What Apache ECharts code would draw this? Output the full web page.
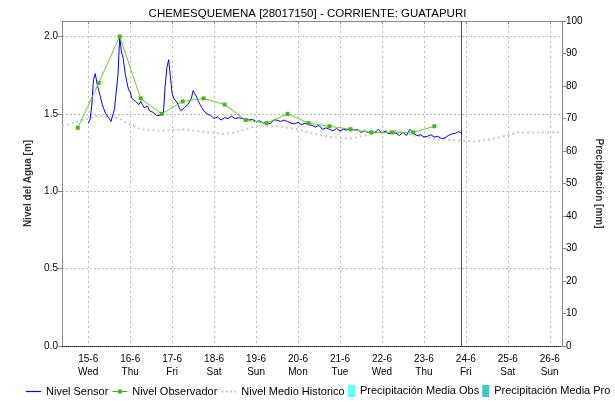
<!DOCTYPE html>
<html><head><meta charset="utf-8">
<script src="https://cdn.jsdelivr.net/npm/echarts@6/dist/echarts.min.js"></script>
<style>html,body{margin:0;padding:0;background:#fff}#c{width:615px;height:404px}</style>
</head><body><div id="c"></div>
<script>
const titleText = 'CHEMESQUEMENA [28017150] - CORRIENTE: GUATAPURI';
// x positions are hours after 15-6 00:00
const dayTickHours = [0, 24, 48, 72, 96, 120, 144, 168, 192, 216, 240, 264];
const dayLabels = ['15-6','16-6','17-6','18-6','19-6','20-6','21-6','22-6','23-6','24-6','25-6','26-6'];
const weekdayLabels = ['Wed','Thu','Fri','Sat','Sun','Mon','Tue','Wed','Thu','Fri','Sat','Sun'];
const axisStartHour = -15;
const axisEndHour = 271;
const nowHour = 213.5;

const sensorHours = [0,1,2,3,4,5,6,7,8,9,10,11,12,13,14,15,16,17,18,19,20,21,22,23,24,25,26,27,28,29,30,31,32,33,34,35,36,37,38,39,40,41,42,43,44,45,46,47,48,49,50,51,52,53,54,55,56,57,58,59,60,61,62,63,64,65,66,67,68,69,70,
  72,74,76,78,80,82,84,86,88,90,92,94,96,98,100,102,104,106,108,110,112,114,116,118,120,122,124,126,128,130,132,134,136,138,140,142,144,146,148,150,152,154,156,158,160,162,164,166,168,170,172,174,176,178,180,182,184,186,188,190,192,194,196,198,200,202,204,206,208,210,212,214];
const sensorLevels = [1.44,1.46,1.55,1.72,1.76,1.70,1.65,1.61,1.56,1.53,1.50,1.50,1.47,1.45,1.44,1.53,1.52,1.75,2.00,1.90,1.86,1.77,1.71,1.66,1.64,1.60,1.59,1.58,1.57,1.56,1.58,1.56,1.54,1.54,1.55,1.52,1.53,1.51,1.51,1.49,1.48,1.49,1.49,1.50,1.68,1.80,1.85,1.74,1.63,1.60,1.59,1.57,1.54,1.52,1.53,1.54,1.53,1.56,1.57,1.60,1.65,1.63,1.61,1.58,1.56,1.54,1.52,1.51,1.50,1.50,1.49,
  1.47,1.48,1.46,1.475,1.47,1.485,1.47,1.475,1.47,1.465,1.46,1.465,1.45,1.455,1.44,1.45,1.435,1.46,1.46,1.45,1.46,1.45,1.44,1.435,1.445,1.43,1.44,1.43,1.425,1.415,1.425,1.40,1.41,1.40,1.39,1.405,1.39,1.40,1.395,1.41,1.395,1.40,1.38,1.39,1.38,1.385,1.38,1.40,1.375,1.39,1.37,1.38,1.375,1.36,1.38,1.36,1.40,1.375,1.36,1.365,1.35,1.355,1.365,1.35,1.355,1.34,1.345,1.36,1.37,1.375,1.385,1.37];

const observerHours = [-6,6,18,30,42,54,66,78,90,102,114,126,138,150,162,174,186,198];
const observerLevels = [1.41,1.70,2.00,1.60,1.50,1.58,1.60,1.56,1.46,1.44,1.50,1.44,1.42,1.40,1.38,1.38,1.38,1.42];

const historicHours = [-15,-6,6,12,18,24,30,42,54,66,78,84,90,96,108,114,120,126,138,150,162,174,180,186,198,210,222,234,246,258,271];
const historicLevels = [1.42,1.45,1.49,1.48,1.47,1.43,1.40,1.39,1.40,1.385,1.37,1.38,1.40,1.42,1.42,1.41,1.40,1.38,1.35,1.34,1.37,1.39,1.385,1.36,1.34,1.33,1.32,1.345,1.38,1.38,1.38];

const precipObs = [];
const precipPro = [];

const pair = (xs, ys) => xs.map((x, i) => [x, ys[i]]);
const FONT = 'Liberation Sans';
const ICON_LINE = 'path://M0,4.5L15,4.5L15,5.7L0,5.7Z';
const ICON_LINE_MARK = 'path://M0,4.5L15,4.5L15,5.5L0,5.5ZM5.5,3L9.5,3L9.5,7L5.5,7Z';
const ICON_DOTS = 'path://M0,4L2,4L2,6L0,6ZM4,4L6,4L6,6L4,6ZM8,4L10,4L10,6L8,6ZM12,4L14,4L14,6L12,6Z';
const legendText = {fontFamily: FONT, fontSize: 11, color: '#000'};

const chart = echarts.init(document.getElementById('c'), null, {renderer: 'canvas'});
chart.setOption({
  animation: false,
  backgroundColor: '#fff',
  title: {
    text: titleText, left: 'center', top: 3,
    textStyle: {fontFamily: FONT, fontSize: 11.5, fontWeight: 'normal', color: '#000'}
  },
  grid: {left: 62, right: 53, top: 21, bottom: 58, containLabel: false},
  legend: [{
    left: 26, top: 386, padding: 0, itemGap: 4, itemWidth: 15, itemHeight: 10,
    textStyle: legendText,
    data: [
      {name: 'Nivel Sensor', icon: ICON_LINE, itemStyle: {color: '#0000ff', borderColor: '#0000ff', borderWidth: 0}},
      {name: 'Nivel Observador', icon: ICON_LINE_MARK},
      {name: 'Nivel Medio Historico', icon: ICON_DOTS}
    ]
  }, {
    left: 348, top: 385, padding: 0, itemGap: 3, itemWidth: 7, itemHeight: 12,
    textStyle: legendText,
    data: [
      {name: 'Precipitación Media Obs', icon: 'rect'},
      {name: 'Precipitación Media Pro', icon: 'rect'}
    ]
  }],
  xAxis: [{
    type: 'value', min: axisStartHour, max: axisEndHour, position: 'bottom',
    axisLine: {show: true, onZero: false, lineStyle: {color: '#222', type: [1, 1]}},
    axisTick: {show: false, customValues: dayTickHours},
    axisLabel: {
      customValues: dayTickHours, margin: 7, lineHeight: 13,
      fontFamily: FONT, fontSize: 10, color: '#000',
      formatter: v => { const i = dayTickHours.indexOf(v); return i < 0 ? '' : dayLabels[i] + '\n' + weekdayLabels[i]; }
    },
    splitLine: {show: true, lineStyle: {color: '#bbb', type: [2, 3], width: 1}}
  }, {
    type: 'value', min: axisStartHour, max: axisEndHour, position: 'top',
    axisLine: {show: true, onZero: false, lineStyle: {color: '#888'}},
    axisTick: {show: true, inside: true, length: 3, customValues: dayTickHours, lineStyle: {color: '#888'}},
    axisLabel: {show: false},
    splitLine: {show: false}
  }],
  yAxis: [{
    type: 'value', min: 0, max: 2.1, interval: 0.5, position: 'left',
    name: 'Nivel del Agua [m]', nameLocation: 'middle', nameGap: 24,
    nameTextStyle: {fontFamily: FONT, fontSize: 10, fontWeight: 'bold', color: '#333'},
    axisLine: {show: true, onZero: false, lineStyle: {color: '#888'}},
    axisTick: {show: true, length: 4, lineStyle: {color: '#888'}},
    axisLabel: {showMaxLabel: false, margin: 4, fontFamily: FONT, fontSize: 10, color: '#000', formatter: v => v.toFixed(1)},
    splitLine: {show: true, lineStyle: {color: '#bbb', type: [2, 2]}}
  }, {
    type: 'value', min: 0, max: 100, interval: 10, position: 'right',
    name: 'Precipitación [mm]', nameLocation: 'middle', nameGap: 22, nameRotate: -90,
    nameTextStyle: {fontFamily: FONT, fontSize: 10, fontWeight: 'bold', color: '#333'},
    axisLine: {show: true, onZero: false, lineStyle: {color: '#888'}},
    axisTick: {show: true, length: 4, lineStyle: {color: '#888'}},
    axisLabel: {margin: 4, fontFamily: FONT, fontSize: 10, color: '#000'},
    splitLine: {show: false}
  }],
  series: [
    {
      name: 'Nivel Medio Historico', type: 'line', data: pair(historicHours, historicLevels),
      symbol: 'circle', showSymbol: false, smooth: false, color: '#c8c8c8',
      itemStyle: {color: '#c8c8c8'},
      lineStyle: {color: '#c8c8c8', width: 2, type: [2, 3]}, z: 1
    },
    {
      name: 'Ahora', type: 'line', data: [[nowHour, 0], [nowHour, 2.1]],
      symbol: 'none', color: '#ff0000', itemStyle: {color: '#ff0000'},
      lineStyle: {color: '#ff0000', width: 1}, z: 2, silent: true
    },
    {
      name: 'Nivel Sensor', type: 'line', data: pair(sensorHours, sensorLevels),
      symbol: 'circle', showSymbol: false, color: '#0000ff',
      itemStyle: {color: '#0000ff'}, lineStyle: {color: '#0000ff', width: 1}, z: 3
    },
    {
      name: 'Nivel Observador', type: 'line', data: pair(observerHours, observerLevels),
      symbol: 'rect', symbolSize: 4, color: '#4cb21a',
      itemStyle: {color: '#4cb21a'}, lineStyle: {color: '#66cc33', width: 1}, z: 4
    },
    {name: 'Precipitación Media Obs', type: 'bar', yAxisIndex: 1, data: precipObs, color: '#66ffff', itemStyle: {color: '#66ffff'}},
    {name: 'Precipitación Media Pro', type: 'bar', yAxisIndex: 1, data: precipPro, color: '#44c4c4', itemStyle: {color: '#44c4c4'}}
  ]
});
</script></body></html>
